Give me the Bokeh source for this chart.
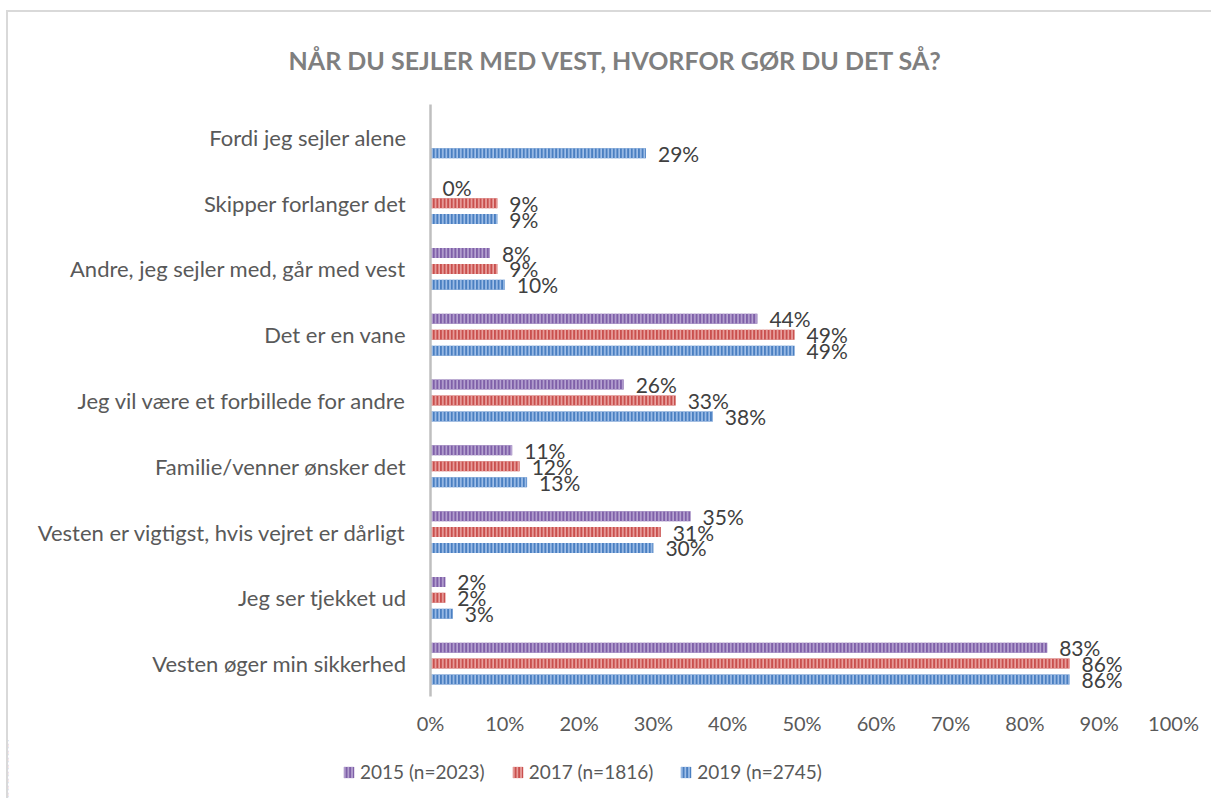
from bokeh.plotting import figure
from bokeh.models import (ColumnDataSource, FactorRange, Range1d, LabelSet, Legend,
                          LegendItem, PrintfTickFormatter, FixedTicker)
from bokeh.core.properties import value
from bokeh.transform import dodge
from bokeh.embed import file_html
from bokeh.resources import INLINE

categories = ["Fordi jeg sejler alene", "Skipper forlanger det",
              "Andre, jeg sejler med, går med vest", "Det er en vane",
              "Jeg vil være et forbillede for andre", "Familie/venner ønsker det",
              "Vesten er vigtigst, hvis vejret er dårligt", "Jeg ser tjekket ud",
              "Vesten øger min sikkerhed"]
series_names = ["2015 (n=2023)", "2017 (n=1816)", "2019 (n=2745)"]
v2015 = [None, 0, 8, 44, 26, 11, 35, 2, 83]
v2017 = [None, 9, 9, 49, 33, 12, 31, 2, 86]
v2019 = [29, 9, 10, 49, 38, 13, 30, 3, 86]
x_ticks = [0, 10, 20, 30, 40, 50, 60, 70, 80, 90, 100]

series_values = [v2015, v2017, v2019]
colors = ["#7f60a8", "#c9504e", "#4a7fc1"]
hatch_colors = ["#b9a6d3", "#eba5a3", "#a3c1ea"]
offsets = [0.242, 0.0, -0.242]

FONT = "Lato"
W = 1205

p = figure(width=W, height=725, output_backend="svg", toolbar_location=None,
           y_range=FactorRange(*reversed(categories)), x_range=Range1d(0, 100),
           min_border_left=422, min_border_right=40, min_border_top=91,
           min_border_bottom=10,
           styles={"margin-left": "6px", "margin-top": "10px",
                   "border-left": "2px solid #d9d9d9",
                   "border-top": "2px solid #d9d9d9"})
p.outline_line_color = None
p.background_fill_color = "white"
p.border_fill_color = "white"
p.xgrid.grid_line_color = None
p.ygrid.grid_line_color = None

p.title.text = "NÅR DU SEJLER MED VEST, HVORFOR GØR DU DET SÅ?"
p.title.align = "left"
p.title.offset = -142
p.title.text_font = FONT
p.title.text_font_size = "25px"
p.title.text_font_style = "bold"
p.title.text_color = "#7f7f7f"
p.title.standoff = 60

bar_style = dict(line_color=None, hatch_pattern="vertical_line", hatch_scale=3.6,
                 hatch_weight=1.6)

sources = []
for name, vals, col, hcol, off in zip(series_names, series_values, colors, hatch_colors, offsets):
    cats = [c for c, v in zip(categories, vals) if v is not None]
    vs = [v for v in vals if v is not None]
    src = ColumnDataSource(dict(cat=cats, v=vs, lab=[f"{v}%" for v in vs]))
    sources.append(src)
    p.hbar(y=dodge("cat", off, range=p.y_range), right="v", left=0, height=0.152,
           source=src, fill_color=col, hatch_color=hcol, **bar_style)
    labels = LabelSet(x="v", y=dodge("cat", off, range=p.y_range), text="lab", source=src,
                      x_offset=12, text_baseline="middle", text_align="left",
                      text_font=value(FONT), text_font_size=value("21px"),
                      text_color=value("#404040"))
    p.add_layout(labels)

# x axis
xa = p.xaxis[0]
xa.ticker = FixedTicker(ticks=x_ticks)
xa.formatter = PrintfTickFormatter(format="%d%%")
xa.axis_line_color = None
xa.major_tick_line_color = None
xa.minor_tick_line_color = None
xa.major_label_text_font = FONT
xa.major_label_text_font_size = "20px"
xa.major_label_text_color = "#595959"
xa.major_label_standoff = 8

ya = p.yaxis[0]
ya.axis_line_color = "#bfbfbf"
ya.axis_line_width = 2.5
ya.major_tick_line_color = None
ya.minor_tick_line_color = None
ya.major_label_text_font = FONT
ya.major_label_text_font_size = "22px"
ya.major_label_text_color = "#595959"
ya.major_label_standoff = 18

# legend strip: a second root below the chart; its bars lie outside its view,
# so only the legend shows
pl = figure(width=W, height=63, output_backend="svg", toolbar_location=None,
            x_range=Range1d(200, 300), y_range=FactorRange(*reversed(categories)),
            min_border_left=0, min_border_right=0, min_border_top=0, min_border_bottom=0,
            styles={"margin-left": "6px", "border-left": "2px solid #d9d9d9"})
pl.axis.visible = False
pl.grid.grid_line_color = None
pl.outline_line_color = None
items = []
for name, src, col, hcol, off in zip(series_names, sources, colors, hatch_colors, offsets):
    r = pl.hbar(y=dodge("cat", off, range=pl.y_range), right="v", left=0, height=0.152,
                source=src, fill_color=col, hatch_color=hcol, **bar_style)
    items.append(LegendItem(label=name, renderers=[r]))
legend = Legend(items=items, orientation="horizontal", location=(334, 15),
                label_text_font=FONT, label_text_font_size="19px",
                label_text_color="#595959", glyph_width=13, glyph_height=14,
                label_standoff=5, spacing=26, border_line_color=None,
                background_fill_alpha=0, margin=0, padding=4)
pl.add_layout(legend, "center")

open("out.html", "w").write(file_html([p, pl], INLINE))
